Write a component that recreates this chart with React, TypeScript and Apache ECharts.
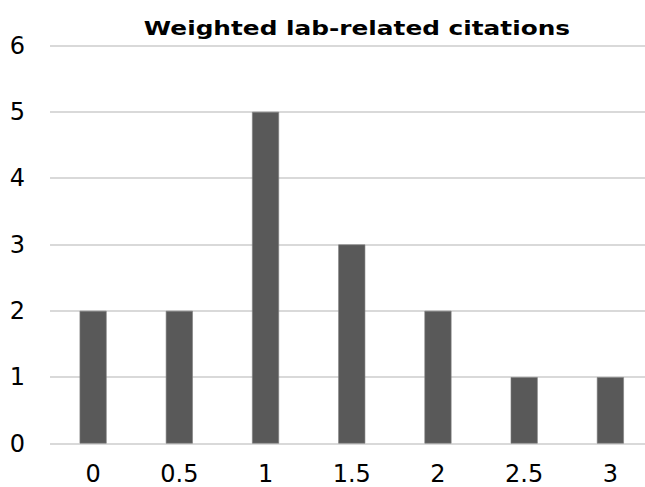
import React, { useEffect, useRef } from "react";
import * as echarts from "echarts";

const categories = ["0", "0.5", "1", "1.5", "2", "2.5", "3"];
const counts = [2, 2, 5, 3, 2, 1, 1];
const yTicks = { min: 0, max: 6, interval: 1 };
const title = "Weighted lab-related citations";

export default function App() {
  const ref = useRef<HTMLDivElement>(null);
  useEffect(() => {
    if (!ref.current) return;
    const chart = echarts.init(ref.current, undefined, { renderer: "svg" });
    const font = "'DejaVu Sans', Verdana, sans-serif";
    chart.setOption({
      animation: false,
      backgroundColor: "#ffffff",
      graphic: [
        {
          type: "text",
          x: 357,
          y: 28,
          scaleX: 1.24,
          style: {
            text: title,
            fontFamily: font,
            fontWeight: "bold",
            fontSize: 20,
            fill: "#000",
            textAlign: "center",
            textVerticalAlign: "middle",
          },
        },
      ],
      grid: [
        { left: 50, right: 0, top: 45.5, bottom: 43.5, outerBoundsMode: "none", containLabel: false },
        { left: 50, width: 603.5, top: 45.5, bottom: 43.5, outerBoundsMode: "none", containLabel: false },
      ],
      xAxis: [
        { type: "value", gridIndex: 0, show: false, min: 0, max: 1 },
        {
          type: "category",
          gridIndex: 1,
          data: categories,
          axisLine: { show: false },
          axisTick: { show: false },
          axisLabel: { fontFamily: font, fontSize: 24, color: "#000", margin: 18 },
        },
      ],
      yAxis: [
        {
          type: "value",
          gridIndex: 0,
          ...yTicks,
          axisLine: { show: false },
          axisTick: { show: false },
          splitLine: { lineStyle: { color: "#d9d9d9", width: 2 } },
          axisLabel: { fontFamily: font, fontSize: 24, color: "#000", margin: 25 },
        },
        { type: "value", gridIndex: 1, ...yTicks, show: false, splitLine: { show: false } },
      ],
      series: [
        {
          type: "bar",
          xAxisIndex: 1,
          yAxisIndex: 1,
          data: counts,
          barWidth: 27,
          itemStyle: { color: "#595959", borderColor: "#7f7f7f", borderWidth: 0.6 },
        },
      ],
    });
    return () => chart.dispose();
  }, []);
  return (
    <div
      ref={ref}
      style={{ position: "absolute", left: 0, top: 0, width: 645, height: 487 }}
    />
  );
}
